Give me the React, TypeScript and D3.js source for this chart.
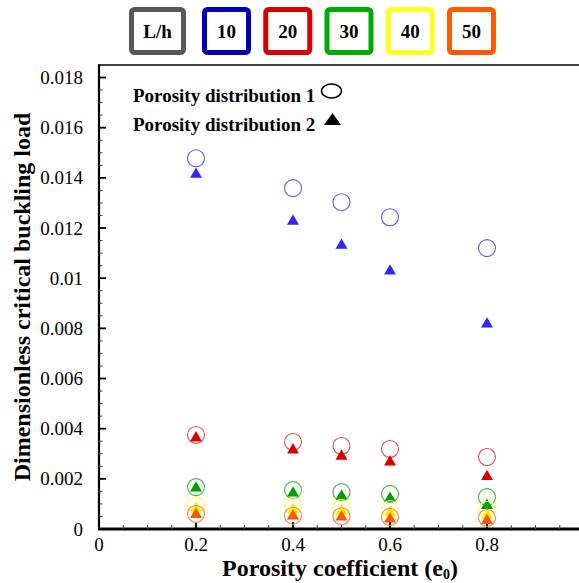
import React from "react";
import * as d3 from "d3";

const porosity = [0.2, 0.4, 0.5, 0.6, 0.8];
const ratioLabels = ["10", "20", "30", "40", "50"];
const dist1_10 = [0.01478, 0.01359, 0.01303, 0.01243, 0.0112];
const dist2_10 = [0.01414, 0.01227, 0.01131, 0.01028, 0.00817];
const dist1_20 = [0.00375, 0.00347, 0.00331, 0.00319, 0.00287];
const dist2_20 = [0.00363, 0.00315, 0.0029, 0.00267, 0.00209];
const dist1_30 = [0.00167, 0.00155, 0.00147, 0.0014, 0.00127];
const dist2_30 = [0.00163, 0.00143, 0.00131, 0.00122, 0.00094];
const dist1_40 = [0.00094, 0.0009, 0.00084, 0.0008, 0.00076];
const dist2_40 = [0.00082, 0.00078, 0.00072, 0.00068, 0.00056];
const dist1_50 = [0.0006, 0.00053, 0.00051, 0.00048, 0.00044];
const dist2_50 = [0.00058, 0.00052, 0.00048, 0.0004, 0.00034];
const yTicks = [0, 0.002, 0.004, 0.006, 0.008, 0.01, 0.012, 0.014, 0.016, 0.018];
const yTickLabels = ["0", "0.002", "0.004", "0.006", "0.008", "0.01", "0.012", "0.014", "0.016", "0.018"];
const xTicks = [0, 0.2, 0.4, 0.6, 0.8, 1];
const xTickLabels = ["0", "0.2", "0.4", "0.6", "0.8", "1"];

const seriesD1 = [dist1_10, dist1_20, dist1_30, dist1_40, dist1_50];
const seriesD2 = [dist2_10, dist2_20, dist2_30, dist2_40, dist2_50];
const boxColors = ["#0000b4", "#d60000", "#00aa00", "#ffff22", "#ff5a00"];
const circleColors = ["#5c5cff", "#e04848", "#3dbb3d", "#ffff40", "#ff7a45"];
const triColors = ["#2a2aff", "#d80000", "#00a000", "#ffee00", "#ff5500"];

const W = 579;
const H = 583;
const serif = "'Liberation Serif', 'Times New Roman', serif";

export default function App() {
  const x = d3.scaleLinear().domain([0, 1]).range([99, 584]);
  const y = d3.scaleLinear().domain([0, 0.0185]).range([529, 65]);
  const xMinor = d3.range(0, 1.0001, 0.05);
  const yMinor = d3.range(0, 0.0185, 0.0005);
  const tri = d3.symbol().type(d3.symbolTriangle).size(62)();

  return (
    <svg width={W} height={H} style={{ position: "absolute", left: 0, top: 0, background: "#fff" }} fontFamily={serif}>
      {/* legend boxes */}
      <g>
        <rect x={131.5} y={9.5} width={52} height={43} rx={3} fill="#fff" stroke="#595959" strokeWidth={5} />
        <text x={157.5} y={38} textAnchor="middle" fontSize={19} fontWeight="bold">L/h</text>
        {ratioLabels.map((lab, i) => {
          const bx = 204.5 + i * 61.25;
          return (
            <g key={lab}>
              <rect x={bx} y={9.5} width={44} height={43} rx={3} fill="#fff" stroke={boxColors[i]} strokeWidth={5} />
              <text x={bx + 22} y={38} textAnchor="middle" fontSize={19} fontWeight="bold">{lab}</text>
            </g>
          );
        })}
      </g>

      {/* frame */}
      <line x1={98} x2={W} y1={65} y2={65} stroke="#000" strokeWidth={1.5} />
      <line x1={99} x2={99} y1={64.5} y2={530} stroke="#000" strokeWidth={2.2} />
      <line x1={98} x2={W} y1={529} y2={529} stroke="#000" strokeWidth={3} />

      {/* minor ticks */}
      {xMinor.map((v, i) => (
        <line key={"xm" + i} x1={x(v)} x2={x(v)} y1={529} y2={525} stroke="#444" strokeWidth={1} />
      ))}
      {yMinor.map((v, i) => (
        <line key={"ym" + i} x1={99} x2={102.5} y1={y(v)} y2={y(v)} stroke="#444" strokeWidth={1} />
      ))}
      {/* major ticks */}
      {xTicks.map((v, i) => (
        <line key={"xM" + i} x1={x(v)} x2={x(v)} y1={529} y2={522} stroke="#000" strokeWidth={1.8} />
      ))}
      {yTicks.map((v, i) => (
        <line key={"yM" + i} x1={99} x2={106} y1={y(v)} y2={y(v)} stroke="#000" strokeWidth={1.8} />
      ))}
      {/* tick labels */}
      {xTicks.map((v, i) => (
        <text key={"xl" + i} x={x(v)} y={551} textAnchor="middle" fontSize={19}>{xTickLabels[i]}</text>
      ))}
      {yTicks.map((v, i) => (
        <text key={"yl" + i} x={83} y={y(v) + 6.5} textAnchor="end" fontSize={19}>{yTickLabels[i]}</text>
      ))}

      {/* axis titles */}
      <text x={340} y={576} textAnchor="middle" fontSize={24} fontWeight="bold">
        Porosity coefficient (e<tspan fontSize={14} dy={3}>0</tspan><tspan dy={-3}>)</tspan>
      </text>
      <text transform="translate(30,297) rotate(-90)" textAnchor="middle" fontSize={24} fontWeight="bold">
        Dimensionless critical buckling load
      </text>

      {/* data */}
      {seriesD1.map((s, si) => (
        <g key={"s" + si}>
          {s.map((v, i) => (
            <circle key={"c" + i} cx={x(porosity[i])} cy={y(v)} r={8.5} fill="none" stroke={circleColors[si]} strokeWidth={1.1} />
          ))}
          {seriesD2[si].map((v, i) => (
            <path key={"t" + i} d={tri} transform={`translate(${x(porosity[i])},${y(v)})`} fill={triColors[si]} />
          ))}
        </g>
      ))}

      {/* series legend */}
      <text x={133} y={102} fontSize={19} fontWeight="bold">Porosity distribution 1</text>
      <text x={133} y={131} fontSize={19} fontWeight="bold">Porosity distribution 2</text>
      <ellipse cx={331.5} cy={91} rx={10} ry={7} fill="none" stroke="#000" strokeWidth={1.5} />
      <path d="M324,125 L341,125 L332.5,113 Z" fill="#000" />
    </svg>
  );
}
